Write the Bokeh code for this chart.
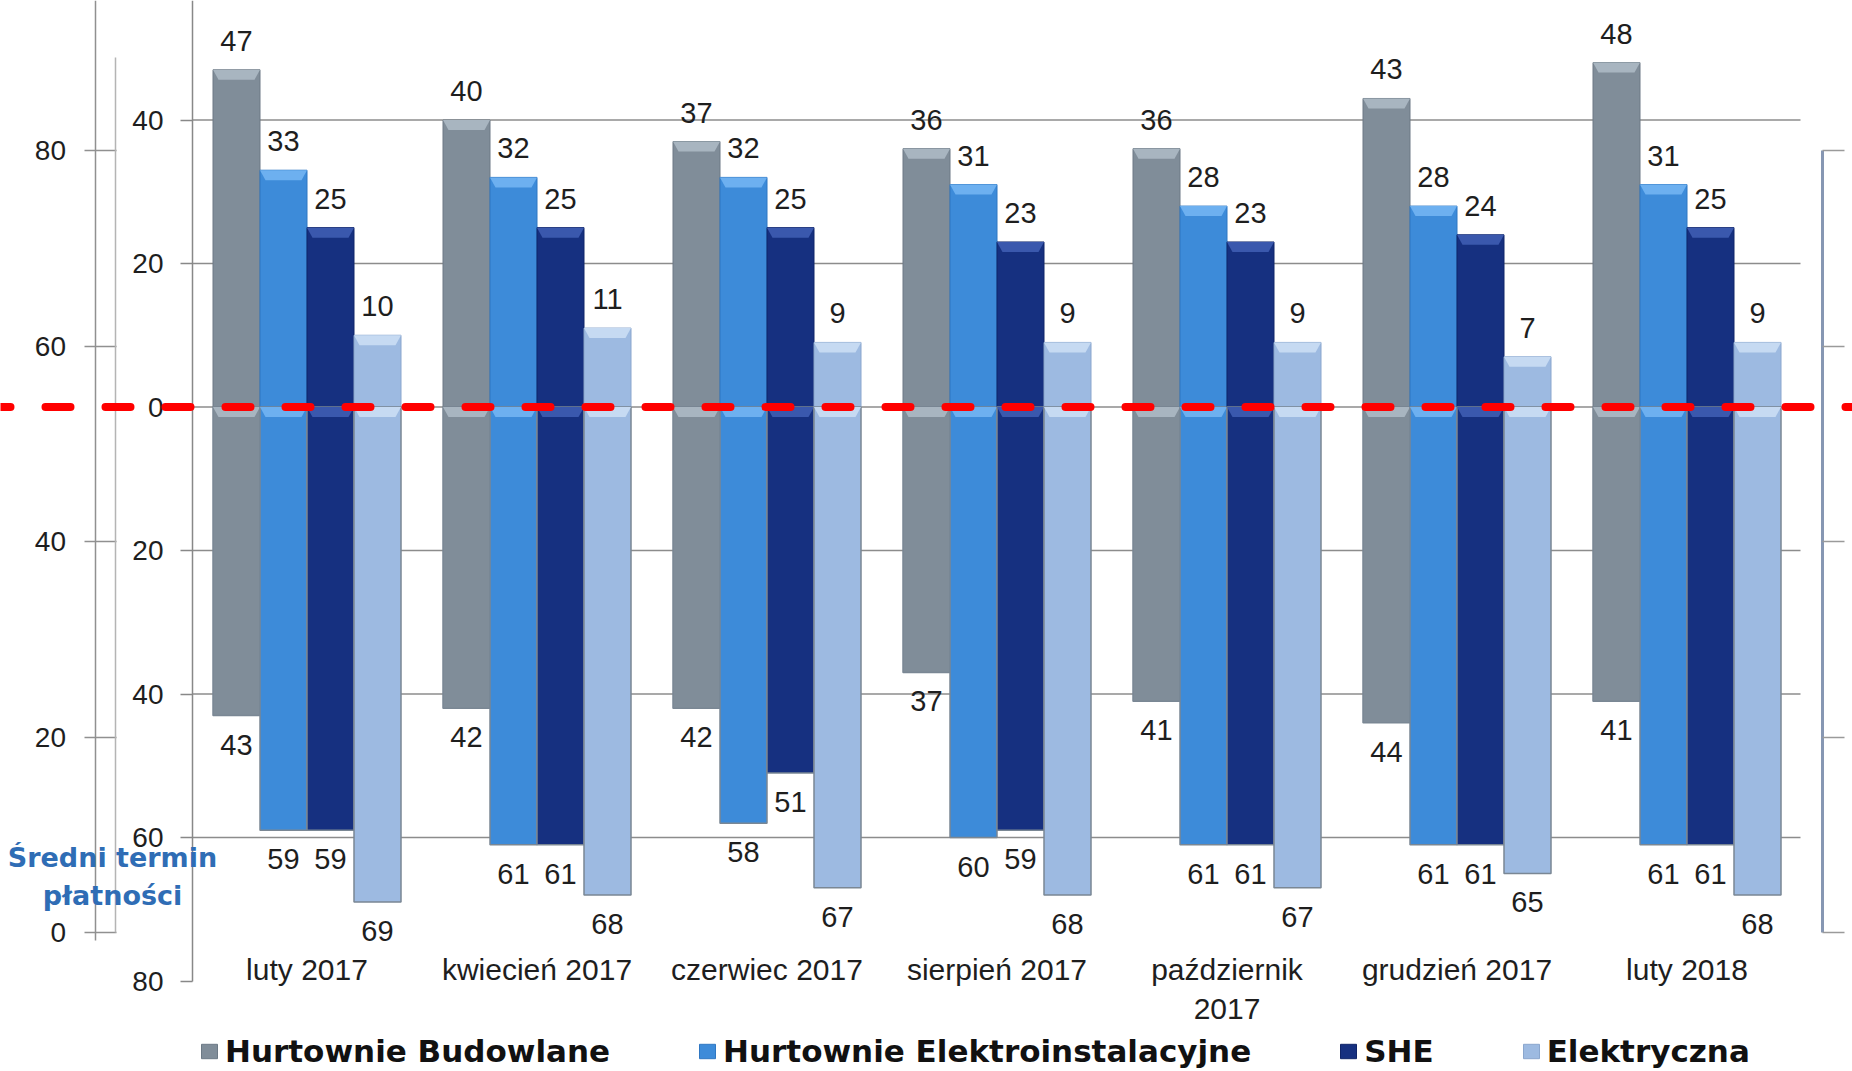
from bokeh.plotting import figure
from bokeh.models import (ColumnDataSource, LinearAxis, Range1d, FixedTicker,
                          Span, Legend, LegendItem, Label)
from bokeh.embed import file_html
from bokeh.resources import INLINE
from bokeh.core.properties import value

# ---------------- data ----------------
categories = ["luty 2017", "kwiecień 2017", "czerwiec 2017", "sierpień 2017",
              "październik\n2017", "grudzień 2017", "luty 2018"]
series_names = ["Hurtownie Budowlane", "Hurtownie Elektroinstalacyjne", "SHE", "Elektryczna"]
hb_top = [47, 40, 37, 36, 36, 43, 48]
he_top = [33, 32, 32, 31, 28, 28, 31]
she_top = [25, 25, 25, 23, 23, 24, 25]
el_top = [10, 11, 9, 9, 9, 7, 9]
hb_bottom = [43, 42, 42, 37, 41, 44, 41]
he_bottom = [59, 61, 58, 60, 61, 61, 61]
she_bottom = [59, 61, 51, 59, 61, 61, 61]
el_bottom = [69, 68, 67, 68, 67, 65, 68]
main_ticks = [-80, -60, -40, -20, 0, 20, 40]
grid_values = [-60, -40, -20, 0, 20, 40]
outer_ticks = [0, 20, 40, 60, 80]
y_title_lines = ["Średni termin", "płatności"]

# ---------------- layout constants (page pixels) ----------------
W, H = 1852, 1071
GROUP_PX = 230.0
FIRST_CENTER = 306.5
ZERO_PX = 406.5
UNIT_PX = 7.175
OUTER_ZERO_PX = 932.0
OUTER_UNIT_PX = 9.775
BAR_W = 47.0 / GROUP_PX
BEVEL = 10.0 / UNIT_PX
INSET = 5.5 / GROUP_PX


def xd(px):
    return (px - FIRST_CENTER) / GROUP_PX


def yd(px):
    return (ZERO_PX - px) / UNIT_PX


def yo(px):
    return (OUTER_ZERO_PX - px) / OUTER_UNIT_PX


fill_colors = ["#808d99", "#3d8bd9", "#163080", "#9dbae1"]
edge_colors = ["#6c7985", "#2f77c2", "#0f2468", "#8aa6cd"]
bevel_colors = ["#a8b5c0", "#6db0f0", "#3a58ad", "#c6daf2"]
down_edge = "#7a8794"
FONT = "Liberation Sans"
TXT = "#1e1e1e"

p = figure(width=W, height=H,
           x_range=Range1d(xd(0), xd(W)),
           y_range=Range1d(yd(H), yd(0)),
           output_backend="svg", toolbar_location=None,
           x_axis_type=None, y_axis_type=None, min_border=0)
p.outline_line_color = None
p.extra_y_ranges = {"outer": Range1d(yo(H), yo(0))}

# grid lines (only inside the main plot area)
gsrc = ColumnDataSource(dict(y=grid_values,
                             x0=[xd(192)] * len(grid_values),
                             x1=[xd(1800)] * len(grid_values)))
p.segment(x0="x0", x1="x1", y0="y", y1="y", line_color="#8c8c8c",
          line_width=1.5, source=gsrc)


def bevel_shapes(xs, edge_vals, direction):
    pxs, pys = [], []
    h = BAR_W / 2
    for x, v in zip(xs, edge_vals):
        inner = v - direction * BEVEL
        pxs.append([x - h, x + h, x + h - INSET, x - h + INSET])
        pys.append([v, v, inner, inner])
    return pxs, pys


tops = [hb_top, he_top, she_top, el_top]
bottoms = [hb_bottom, he_bottom, she_bottom, el_bottom]
offsets = [-1.5, -0.5, 0.5, 1.5]
legend_items = []
label_sources = []
for k in range(4):
    xs = [i + offsets[k] * BAR_W for i in range(len(categories))]
    up = ColumnDataSource(dict(x=xs, top=tops[k],
                               label=[str(v) for v in tops[k]]))
    dn = ColumnDataSource(dict(x=xs, bottom=[-v for v in bottoms[k]],
                               label=[str(v) for v in bottoms[k]]))
    r_up = p.vbar(x="x", top="top", bottom=0, width=BAR_W,
                  fill_color=fill_colors[k], line_color=edge_colors[k],
                  line_width=1, source=up)
    bx, by = bevel_shapes(xs, tops[k], 1)
    p.patches(xs=bx, ys=by, fill_color=bevel_colors[k], line_color=None)
    p.vbar(x="x", top=0, bottom="bottom", width=BAR_W,
           fill_color=fill_colors[k], line_color=down_edge,
           line_width=1.5, source=dn)
    dx, dy = bevel_shapes(xs, [0] * len(xs), 1)
    p.patches(xs=dx, ys=dy, fill_color=bevel_colors[k], line_color=None)
    legend_items.append(LegendItem(label=series_names[k], renderers=[r_up]))
    label_sources.append((up, dn))

for up, dn in label_sources:
    p.text(x="x", y="top", text="label", source=up, text_align="center",
           text_baseline="alphabetic", y_offset=-29,
           text_font=value(FONT), text_font_size="29px", text_color=TXT)
    p.text(x="x", y="bottom", text="label", source=dn, text_align="center",
           text_baseline="alphabetic", y_offset=29,
           text_font=value(FONT), text_font_size="29px", text_color=TXT)

# inner (main) axis
main_ax = LinearAxis(fixed_location=xd(192), ticker=FixedTicker(ticks=main_ticks),
                     major_label_overrides={t: str(abs(t)) for t in main_ticks},
                     bounds=(-80, yd(0)),
                     major_tick_out=12, major_tick_in=0,
                     minor_tick_line_color=None,
                     axis_line_color="#888888", axis_line_width=1.5,
                     major_tick_line_color="#888888", major_tick_line_width=1.5,
                     major_label_standoff=17,
                     major_label_text_font=FONT, major_label_text_font_size="28px",
                     major_label_text_color=TXT)
p.add_layout(main_ax, "left")

# outer (secondary) axis
outer_ax = LinearAxis(y_range_name="outer", fixed_location=xd(94.5),
                      ticker=FixedTicker(ticks=outer_ticks),
                      bounds=(yo(940), yo(0)),
                      major_tick_out=11, major_tick_in=21,
                      minor_tick_line_color=None,
                      axis_line_color="#909090", axis_line_width=1.5,
                      major_tick_line_color="#909090", major_tick_line_width=1.5,
                      major_label_standoff=18,
                      major_label_text_font=FONT, major_label_text_font_size="28px",
                      major_label_text_color=TXT)
p.add_layout(outer_ax, "left")

faint_ax = LinearAxis(y_range_name="outer", fixed_location=xd(115),
                      ticker=FixedTicker(ticks=[]), bounds=(0, yo(57)),
                      major_tick_line_color=None, minor_tick_line_color=None,
                      axis_line_color="#b4b4b4", axis_line_width=1.5,
                      major_label_text_alpha=0)
p.add_layout(faint_ax, "left")

right_ax = LinearAxis(y_range_name="outer", fixed_location=xd(1822),
                      ticker=FixedTicker(ticks=outer_ticks), bounds=(0, 80),
                      major_tick_out=22, major_tick_in=0,
                      minor_tick_line_color=None,
                      axis_line_color="#8797b3", axis_line_width=3,
                      major_tick_line_color="#9a9a9a", major_tick_line_width=1.5,
                      major_label_text_alpha=0)
p.add_layout(right_ax, "right")

# category axis
cat_ax = LinearAxis(fixed_location=yd(952),
                    ticker=FixedTicker(ticks=list(range(len(categories)))),
                    major_label_overrides={i: c for i, c in enumerate(categories)},
                    axis_line_color=None, major_tick_line_color=None,
                    minor_tick_line_color=None, major_tick_out=0, major_tick_in=0,
                    major_label_standoff=0,
                    major_label_text_font=FONT, major_label_text_font_size="30px",
                    major_label_text_color=TXT)
p.add_layout(cat_ax, "below")

# red dashed zero line
p.add_layout(Span(location=0, dimension="width", line_color="#ff0000",
                  line_width=8, line_dash="25 35", line_dash_offset=15,
                  line_cap="round"))

# axis title
for line, ypx in zip(y_title_lines, [857, 895]):
    p.add_layout(Label(x=xd(112), y=yd(ypx), text=line, text_align="center",
                       text_baseline="alphabetic", text_font="DejaVu Sans",
                       text_font_style="bold", text_font_size="27px",
                       text_color="#2f6db5"))

legend = Legend(items=legend_items, orientation="horizontal",
                location=(199, 2), spacing=87, glyph_width=20, glyph_height=18,
                label_standoff=6, padding=0, margin=0,
                border_line_color=None, background_fill_alpha=0,
                label_text_font="DejaVu Sans", label_text_font_style="bold",
                label_text_font_size="31px", label_text_color="#111111")
p.add_layout(legend)

open("out.html", "w").write(file_html(p, INLINE))
